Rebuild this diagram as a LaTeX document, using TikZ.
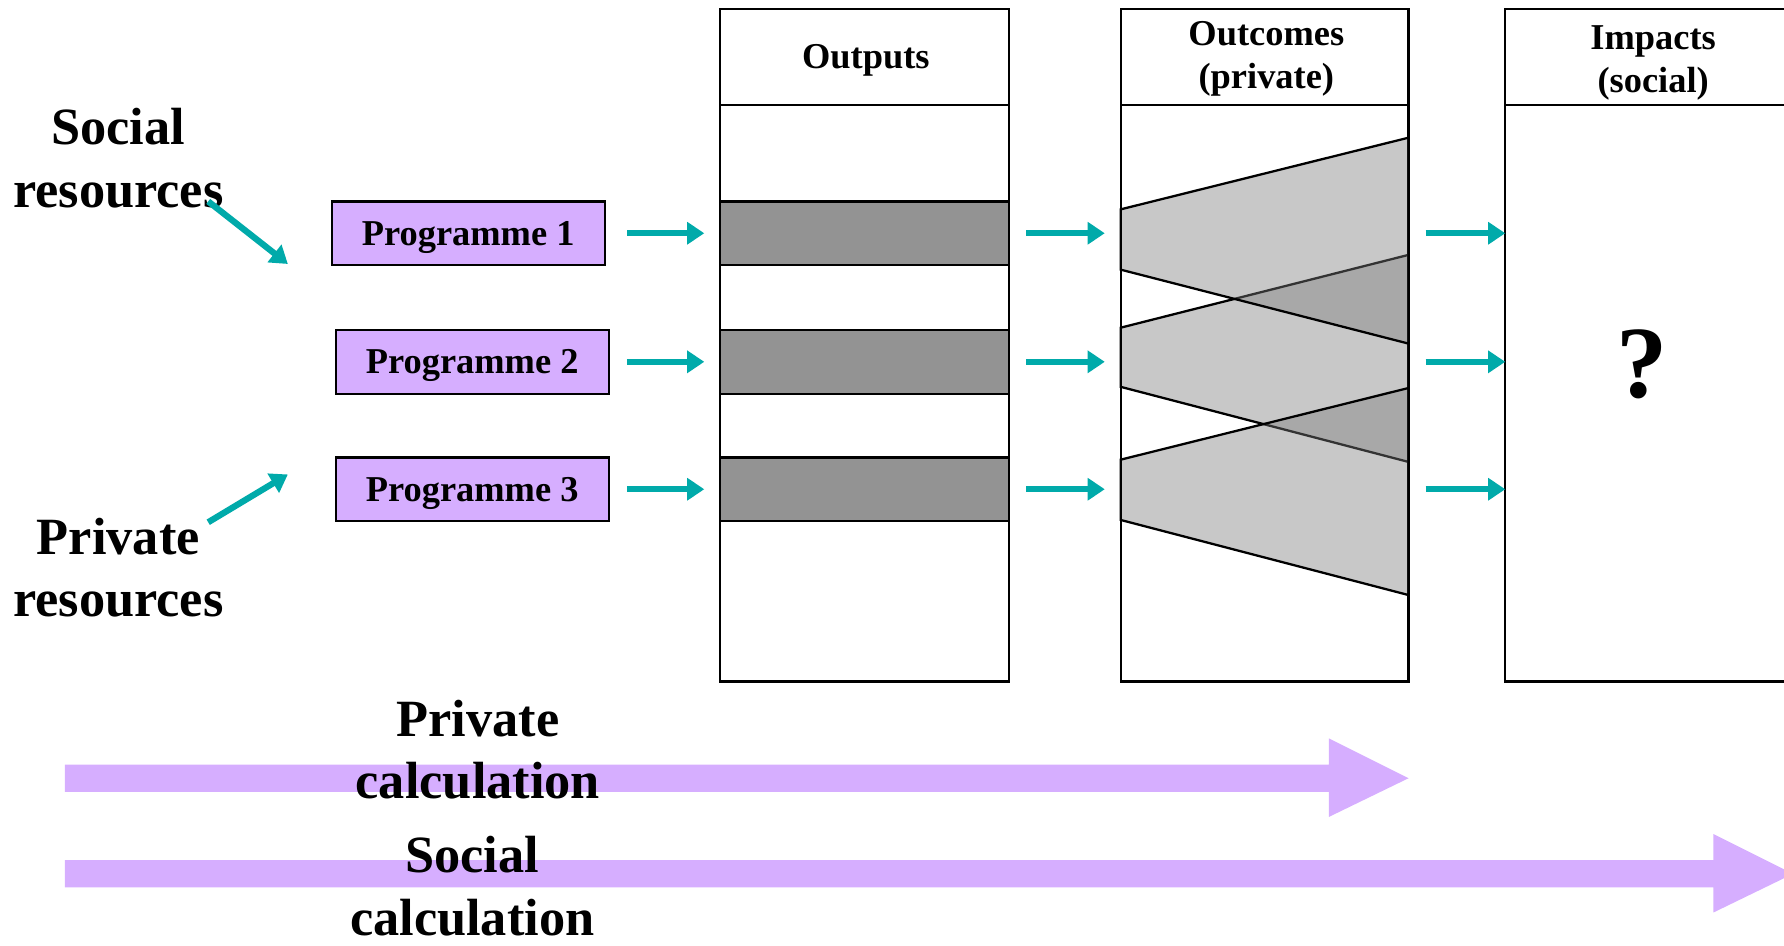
\documentclass[tikz,border=0pt]{standalone}
\usepackage{fontspec}
\setmainfont{Liberation Serif}
\usetikzlibrary{arrows.meta}
\definecolor{lavender}{RGB}{214,174,255}
\definecolor{flowteal}{RGB}{0,170,170}
\definecolor{bandgray}{RGB}{147,147,147}
\definecolor{trapgray}{RGB}{123,123,123}
\tikzset{
  prog/.style={draw, line width=2pt, fill=lavender, minimum width=240pt, minimum height=56pt, inner sep=0pt, text depth=0pt, font=\fontsize{32}{38}\selectfont\bfseries},
  band/.style={draw, line width=2pt, fill=bandgray, minimum width=254pt, minimum height=56pt, inner sep=0pt},
  column/.style={draw, line width=2pt},
  trap/.style={draw, line width=2pt, fill=trapgray, fill opacity=0.42},
  flow/.style={draw=flowteal, line width=5.5pt, -{Triangle[length=15pt,width=19pt]}},
  head/.style={align=center, font=\fontsize{32}{38}\selectfont\bfseries},
  big/.style={align=center, inner sep=0pt, font=\fontsize{46}{55}\selectfont\bfseries},
  broad/.style={fill=lavender}
}
\begin{document}
\begin{tikzpicture}[x=1pt, y=-1pt]
\useasboundingbox (0,0) rectangle (1568,831);
\clip (0,0) rectangle (1568,831);
% columns
\draw[column] (633,8) rectangle (887,599);
\draw[column] (633,92) -- (887,92);
\draw[column] (985,8) rectangle (1238,599);
\draw[column] (985,92) -- (1238,92);
\draw[column] (1323,8) rectangle (1577,599);
\draw[column] (1323,92) -- (1577,92);
\node[head] (hout) at (761,53) {Outputs};
\node[head] (hoc) at (1113,52) {Outcomes\\(private)};
\node[head] (himp) at (1453,55) {Impacts\\(social)};
\node[font=\fontsize{90}{100}\selectfont\bfseries] (q) at (1443,320) {?};
% outputs
\node[band] (o1) at (760,205) {};
\node[band] (o2) at (760,318) {};
\node[band] (o3) at (760,430) {};
% outcomes
\draw[trap] (985,288) -- (1238,224) -- (1238,406) -- (985,340) -- cycle;
\draw[trap] (985,184) -- (1238,121) -- (1238,302) -- (985,237) -- cycle;
\draw[trap] (985,404) -- (1238,341) -- (1238,523) -- (985,457) -- cycle;
\coordinate (in1) at (985,205);
\coordinate (in2) at (985,318);
\coordinate (in3) at (985,430);
\coordinate (out1) at (1238,205);
\coordinate (out2) at (1238,318);
\coordinate (out3) at (1238,430);
\coordinate (imp1) at (1323,205);
\coordinate (imp2) at (1323,318);
\coordinate (imp3) at (1323,430);
% programmes
\node[prog] (p1) at (411.5,205) {Programme 1};
\node[prog] (p2) at (415,318) {Programme 2};
\node[prog] (p3) at (415,430) {Programme 3};
\draw[flow, shorten <=19pt, shorten >=13pt] (p1) -- (o1);
\draw[flow, shorten <=15pt, shorten >=13pt] (p2) -- (o2);
\draw[flow, shorten <=15pt, shorten >=13pt] (p3) -- (o3);
\draw[flow, shorten <=14pt, shorten >=14pt] (o1) -- (in1);
\draw[flow, shorten <=14pt, shorten >=14pt] (o2) -- (in2);
\draw[flow, shorten <=14pt, shorten >=14pt] (o3) -- (in3);
\draw[flow, shorten <=15pt] (out1) -- (imp1);
\draw[flow, shorten <=15pt] (out2) -- (imp2);
\draw[flow, shorten <=15pt] (out3) -- (imp3);
% resources
\node[big] (socres) at (104,139) {Social\\resources};
\node[big] (prires) at (104,499) {Private\\resources};
\coordinate (sfrom) at (183,177);
\coordinate (sto) at (253,232);
\coordinate (pfrom) at (183,459);
\coordinate (pto) at (253,417);
\draw[flow] (sfrom) -- (sto);
\draw[flow] (pfrom) -- (pto);
% calculations
\fill[broad] (57,672) -- (1168,672) -- (1168,649) -- (1238,684) -- (1168,718) -- (1168,696) -- (57,696) -- cycle;
\fill[broad] (57,756) -- (1506,756) -- (1506,733) -- (1576,768) -- (1506,802) -- (1506,780) -- (57,780) -- cycle;
\node[big] (pcalc) at (420,659) {Private\\calculation};
\node[big] (scalc) at (415,779) {Social\\calculation};
\end{tikzpicture}
\end{document}
